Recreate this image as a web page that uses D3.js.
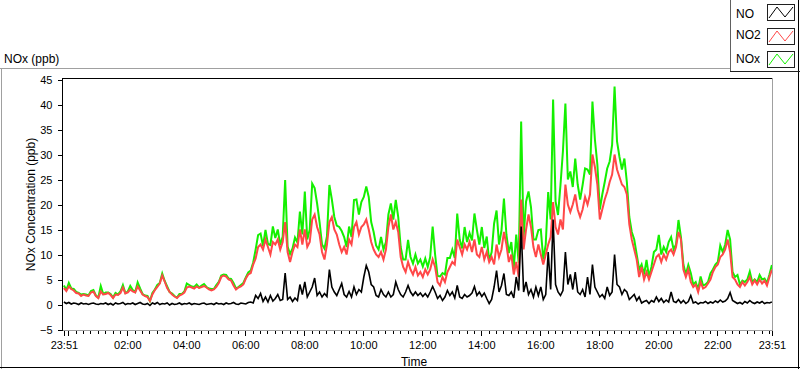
<!DOCTYPE html>
<html><head><meta charset="utf-8">
<script src="https://cdn.jsdelivr.net/npm/d3@7"></script>
<style>body{margin:0;background:#fff}svg{display:block;font-family:"Liberation Sans",Arial,sans-serif}</style>
</head><body><svg id="c" width="800" height="369"></svg>
<script>
// ---- data (5-minute samples starting 23:51) ----
const seriesNames = ["NO", "NO2", "NOx"];
const seriesColors = ["#000000", "#ff4848", "#14f000"];
const stepMinutes = 5;
const NO = [
0.5,0.2,0.4,0.1,0.3,0.2,0.0,0.3,0.1,0.2,
0.0,0.2,0.3,0.1,0.0,0.2,0.1,0.3,0.0,0.2,
-0.1,0.3,0.1,0.2,0.4,0.0,0.2,0.1,0.3,0.0,
0.2,0.4,0.1,0.0,0.2,-0.2,0.3,0.1,0.4,0.0,
0.2,0.1,0.3,-0.1,0.2,0.0,0.1,0.3,0.0,0.2,
0.1,0.3,0.0,0.2,0.1,0.0,0.2,0.3,0.0,0.1,
0.2,0.0,0.3,0.1,0.2,0.0,0.3,0.1,0.2,0.4,
0.1,0.0,0.3,0.2,0.1,0.4,0.5,0.3,1.8,1.2,
2.2,0.6,1.5,0.5,1.8,0.7,1.2,2.0,0.8,1.0,
6.3,1.0,1.5,0.6,1.3,0.8,4.0,2.0,4.5,1.5,
2.5,3.5,5.3,1.8,2.5,1.5,2.2,1.6,7.0,3.5,
2.5,1.8,3.0,4.2,2.0,1.5,2.6,1.5,3.5,2.0,
3.0,2.5,5.5,7.8,6.5,4.0,3.5,1.8,1.5,3.0,
2.0,1.5,2.5,1.5,2.0,4.5,3.0,2.0,1.5,2.5,
3.8,2.5,1.8,2.5,1.8,2.3,1.6,2.2,1.5,2.5,
3.6,2.5,1.2,1.8,0.8,1.5,2.8,1.8,2.5,1.3,
3.8,1.5,1.2,2.0,1.5,1.8,2.3,3.6,1.8,2.5,
1.6,2.3,1.2,0.2,1.0,3.5,6.8,2.5,3.8,6.2,
2.0,1.8,2.5,1.3,5.5,2.8,15.6,2.5,4.5,2.0,
3.0,1.5,3.5,1.8,3.5,1.0,2.0,10.5,3.0,17.0,
4.0,2.5,1.8,2.8,10.5,4.0,6.0,3.0,6.5,2.5,
2.0,3.0,1.5,5.5,2.0,8.0,3.5,2.5,1.5,2.0,
1.2,3.5,1.8,2.5,10.0,4.0,3.5,2.0,3.0,2.5,
1.0,1.5,2.0,0.8,1.5,0.3,0.6,0.8,0.2,0.8,
0.5,1.5,0.6,1.2,0.4,0.9,0.5,2.5,0.6,0.4,
1.0,0.3,0.8,0.2,0.6,1.8,0.3,0.5,0.1,0.4,
0.3,0.6,0.2,0.5,0.3,0.7,0.4,0.9,0.5,0.7,
1.2,2.4,0.8,0.5,0.2,0.4,0.1,0.6,0.3,0.8,
0.4,0.2,0.5,0.3,0.6,0.2,0.4,0.3,0.5];
const NO2 = [
3.3,2.7,3.6,3.1,2.8,2.3,2.2,1.7,2.0,1.8,
1.7,2.4,2.6,1.7,1.3,2.6,2.0,2.1,2.3,1.9,
1.3,2.0,1.9,2.3,3.4,2.2,2.4,3.0,2.6,2.4,
3.6,2.8,2.0,1.7,1.5,0.7,2.0,2.9,3.5,4.2,
5.8,4.6,3.3,2.5,2.0,1.6,1.3,1.8,2.0,2.4,
3.4,3.6,3.4,3.2,3.6,3.3,3.5,3.7,3.4,3.0,
2.8,3.0,3.5,4.3,5.5,5.8,5.6,5.0,4.8,3.8,
3.0,3.4,3.6,4.0,5.2,6.0,6.3,8.0,9.2,11.5,
12.0,11.0,13.0,11.5,10.0,12.5,12.0,13.0,11.0,12.5,
16.5,10.5,8.5,10.5,12.0,11.5,15.0,12.0,15.0,11.5,
12.5,17.0,18.0,15.5,14.0,10.5,9.0,12.0,16.5,17.5,
15.0,14.0,12.0,10.5,11.5,10.0,13.0,12.0,15.5,16.5,
14.0,15.5,16.0,17.0,15.0,12.5,11.0,10.0,9.5,10.5,
9.0,11.0,15.5,18.0,15.0,16.5,14.5,9.5,7.5,6.5,
8.5,7.0,6.0,7.5,5.8,6.5,5.5,7.0,6.0,7.0,
9.0,7.5,4.5,3.8,5.5,4.5,6.5,7.5,8.5,8.0,
13.0,11.5,10.0,12.0,11.0,12.5,10.5,13.0,10.0,9.5,
11.5,9.0,10.5,8.5,9.5,8.0,12.0,9.5,11.0,14.5,
12.0,8.5,10.0,6.0,8.5,5.5,21.0,11.0,15.0,18.0,
15.5,11.5,9.5,12.0,10.0,8.0,10.0,12.0,13.5,20.5,
15.5,14.0,17.0,15.0,24.0,20.0,18.5,20.0,22.0,19.0,
17.5,19.0,21.5,20.0,22.0,30.0,27.5,24.0,17.0,19.0,
21.0,22.5,24.5,26.0,30.0,27.0,25.5,24.0,23.5,22.0,
16.0,13.0,11.0,9.0,5.5,7.5,5.0,6.5,5.0,6.5,
8.0,9.5,10.0,8.5,10.0,9.0,10.5,11.0,10.0,11.5,
14.5,13.0,7.0,5.5,7.0,4.5,3.5,4.0,2.5,4.5,
3.2,3.5,4.2,5.0,6.5,7.5,8.0,9.5,10.0,11.0,
13.0,10.5,5.5,5.0,4.0,3.5,4.5,3.8,4.5,5.5,
4.0,4.8,4.0,5.0,4.2,4.8,3.8,5.5,7.0];
const NOX = [
3.8,2.9,4.3,3.2,3.1,2.5,2.3,2.0,2.1,2.0,
1.8,2.7,2.9,1.8,1.4,3.7,2.1,2.4,2.4,2.1,
1.4,2.3,2.0,2.6,3.9,2.3,2.6,3.7,2.9,2.5,
4.4,3.2,2.1,1.8,1.7,0.7,2.3,3.0,3.9,4.3,
6.2,4.7,3.6,2.5,2.2,1.7,1.4,2.1,2.1,2.6,
4.2,3.9,3.6,3.5,4.0,3.4,3.8,4.1,3.5,3.2,
3.1,3.1,3.9,4.5,5.8,6.0,5.9,5.2,5.1,4.3,
3.2,3.5,3.9,4.3,5.4,6.4,6.8,8.4,11.0,13.9,
14.2,11.7,14.9,12.1,11.9,15.6,13.3,15.0,11.9,13.6,
24.9,11.6,10.1,11.2,13.4,12.4,18.6,14.0,22.6,13.0,
15.0,24.2,23.3,20.2,16.5,12.0,11.2,13.6,23.9,21.0,
17.5,15.8,15.5,14.7,13.5,11.5,15.6,13.5,20.9,21.0,
18.0,20.5,21.5,23.6,21.5,16.5,14.5,11.8,11.0,13.5,
11.0,12.5,18.0,20.2,17.0,20.9,17.5,11.5,9.0,9.0,
12.9,9.5,8.2,10.0,8.2,9.0,7.6,9.2,7.5,9.5,
15.6,10.0,5.7,5.6,6.3,6.0,9.3,9.3,11.0,9.3,
18.2,13.0,11.2,15.5,12.5,14.3,12.8,18.2,14.9,12.0,
15.5,11.3,13.6,8.7,10.5,16.2,18.8,12.0,14.8,21.2,
14.0,10.3,12.5,7.3,14.0,8.3,36.6,13.5,20.6,22.6,
19.5,13.0,13.0,14.9,15.0,9.0,12.0,22.5,17.0,41.0,
20.6,17.9,23.9,30.7,40.2,25.0,26.6,23.5,29.2,24.0,
21.0,23.9,27.2,27.0,26.0,40.6,33.0,28.0,19.0,22.0,
24.5,27.2,28.6,31.9,43.6,32.6,29.5,27.0,29.2,24.5,
17.5,14.5,13.0,10.0,7.0,8.0,6.0,8.9,5.5,7.5,
10.5,11.0,13.9,10.0,11.5,10.5,12.5,13.5,11.0,12.0,
16.9,13.5,8.0,6.0,7.9,6.3,4.0,4.5,3.0,5.6,
3.8,4.0,4.5,6.2,7.0,8.0,8.5,11.8,10.5,12.0,
14.9,13.0,6.5,5.5,5.9,4.0,4.8,4.5,5.0,6.6,
4.5,5.0,4.5,5.9,5.0,5.2,4.3,6.0,7.9];
const yTickValues = [-5, 0, 5, 10, 15, 20, 25, 30, 35, 40, 45];
const xTickLabels = ["23:51", "", "02:00", "04:00", "06:00", "08:00", "10:00", "12:00",
                     "14:00", "16:00", "18:00", "20:00", "22:00", "23:51"];

// ---- layout ----
const svg = d3.select("#c");
const t0 = new Date(2000, 0, 1, 23, 51), t1 = new Date(2000, 0, 2, 23, 51);
const x = d3.scaleTime().domain([t0, t1]).range([63.9, 771.9]);
const y = d3.scaleLinear().domain([-5, 45]).range([329.5, 79.5]);
const times = d3.range(NO.length).map(i => d3.timeMinute.offset(t0, i * stepMinutes));

function hline(x1, x2, yy, c) { svg.append("line").attr("x1", x1).attr("x2", x2).attr("y1", yy).attr("y2", yy).attr("stroke", c); }
function vline(xx, y1, y2, c) { svg.append("line").attr("x1", xx).attr("x2", xx).attr("y1", y1).attr("y2", y2).attr("stroke", c); }

// outer frame
hline(0, 730, 68.5, "#a0a0a0");
vline(1.5, 68, 369, "#a0a0a0");
hline(0, 800, 367.5, "#000");
vline(798.5, 0, 369, "#000");
// legend frame
vline(730.5, 0, 72, "#606060");
hline(730, 800, 71.5, "#202020");

// title
svg.append("text").attr("x", 4).attr("y", 63).attr("font-size", 12).attr("fill", "#000").text("NOx (ppb)");

// clip
svg.append("clipPath").attr("id", "clip").append("rect").attr("x", 63).attr("y", 79).attr("width", 709).attr("height", 251);

// series (NOx below, NO2 over it, NO on top)
const data = [NOX, NO2, NO];
const cols = [seriesColors[2], seriesColors[1], seriesColors[0]];
const widths = [2, 2, 1.6];
const g = svg.append("g").attr("clip-path", "url(#clip)");
data.forEach((arr, k) => {
  const line = d3.line().x((d, i) => x(times[i])).y(d => y(d));
  g.append("path").datum(arr).attr("d", line).attr("fill", "none")
    .attr("stroke", cols[k]).attr("stroke-width", widths[k]).attr("stroke-linejoin", "miter");
});

// plot frame
hline(62, 773, 78.5, "#000");
vline(62.5, 78, 331, "#000");
vline(772.5, 78, 331, "#a0a0a0");
hline(62, 773, 330.5, "#a0a0a0");

// y axis
const ya = svg.append("g").attr("transform", "translate(62.5,0)")
  .call(d3.axisLeft(y).tickValues(yTickValues).tickSize(5).tickPadding(5).tickFormat(d3.format("d")));
ya.select(".domain").remove();
ya.selectAll("line").attr("stroke", "#000").attr("shape-rendering", "crispEdges");
ya.selectAll("text").attr("font-size", 11).attr("font-family", "Liberation Sans, Arial, sans-serif").attr("fill", "#000");

// x axis: minor and major ticks
const minor = d3.timeMinute.every(15).range(t0, t1);
const xm = svg.append("g").attr("transform", "translate(0,331)")
  .call(d3.axisBottom(x).tickValues(minor).tickSize(3).tickFormat(""));
xm.select(".domain").remove();
xm.selectAll("line").attr("stroke", "#000").attr("shape-rendering", "crispEdges");
const majors = [t0].concat(d3.timeHour.every(2).range(t0, t1)).concat([t1]);
const xM = svg.append("g").attr("transform", "translate(0,331)")
  .call(d3.axisBottom(x).tickValues(majors).tickSize(5).tickPadding(5).tickFormat((d, i) => xTickLabels[i]));
xM.select(".domain").remove();
xM.selectAll("line").attr("stroke", "#000").attr("shape-rendering", "crispEdges");
xM.selectAll("text").attr("font-size", 11).attr("font-family", "Liberation Sans, Arial, sans-serif").attr("fill", "#000");

// axis titles
svg.append("text").attr("transform", "translate(35,204.5) rotate(-90)").attr("text-anchor", "middle")
  .attr("font-size", 12).attr("fill", "#000").text("NOx Concentration (ppb)");
svg.append("text").attr("x", 414).attr("y", 366).attr("text-anchor", "middle")
  .attr("font-size", 12).attr("fill", "#000").text("Time");

// legend
const legTop = [4, 28, 51];
const legBase = [18, 39, 63];
seriesNames.forEach((name, k) => {
  svg.append("text").attr("x", 736).attr("y", legBase[k]).attr("font-size", 12).attr("fill", "#000").text(name);
  const bx = 767, by = legTop[k];
  svg.append("rect").attr("x", bx + 0.5).attr("y", by + 0.5).attr("width", 27).attr("height", 16)
    .attr("fill", "#fff").attr("stroke", "#202020").attr("shape-rendering", "crispEdges");
  svg.append("path").attr("d", `M${bx + 2},${by + 14}L${bx + 10},${by + 3}L${bx + 18},${by + 13}L${bx + 26},${by + 3}`)
    .attr("fill", "none").attr("stroke", seriesColors[k]).attr("stroke-width", 1);
});
</script></body></html>
